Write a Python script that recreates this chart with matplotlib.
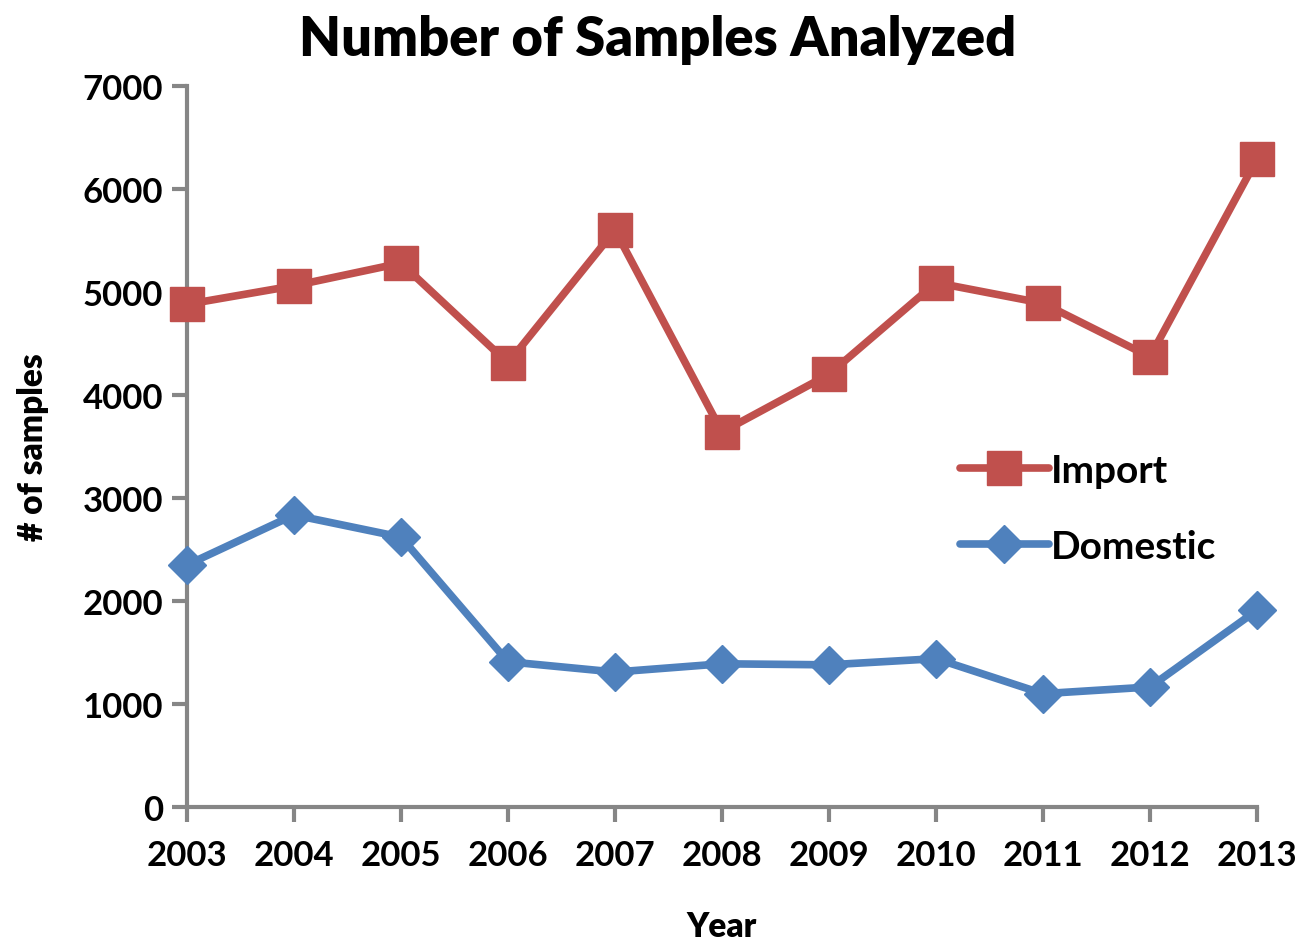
import matplotlib.pyplot as plt
import numpy as np

# datos
years = [2003, 2004, 2005, 2006, 2007, 2008, 2009, 2010, 2011, 2012, 2013]
import_samples = [4880, 5060, 5280, 4310, 5600, 3640, 4200, 5090, 4890, 4370, 6290]
domestic_samples = [2350, 2835, 2620, 1410, 1310, 1390, 1380, 1440, 1100, 1165, 1910]
y_ticks = [0, 1000, 2000, 3000, 4000, 5000, 6000, 7000]

plt.rcParams['font.family'] = ['Lato', 'DejaVu Sans']
plt.rcParams['font.weight'] = 'bold'

fig = plt.figure(figsize=(13.03, 9.45), dpi=100)
ax = fig.add_axes([0.1435, 0.145, 0.8212, 0.763])

ax.plot(years, import_samples, color="#C0504D", lw=5.5, marker="s", ms=24,
        label="Import", solid_joinstyle="round", solid_capstyle="round",
        clip_on=False, zorder=3)
ax.plot(years, domestic_samples, color="#4F81BD", lw=5.5, marker="D", ms=19,
        label="Domestic", solid_joinstyle="round", solid_capstyle="round",
        clip_on=False, zorder=3)

ax.set_xlim(2003, 2013)
ax.set_ylim(0, 7000)
ax.set_xticks(years)
ax.set_yticks(y_ticks)
ax.tick_params(axis="both", labelsize=25, color="#868686", width=3, length=11, direction="out")
ax.tick_params(axis="x", pad=12)
ax.tick_params(axis="y", pad=6)

for s in ["top", "right"]:
    ax.spines[s].set_visible(False)
for s in ["left", "bottom"]:
    ax.spines[s].set_color("#868686")
    ax.spines[s].set_linewidth(3)

fig.text(0.505, 0.958, "Number of Samples Analyzed", fontsize=39, fontweight="heavy",
         ha="center", va="center")
ax.set_xlabel("Year", fontsize=24, fontweight="heavy", labelpad=28)
ax.set_ylabel("# of samples", fontsize=24, fontweight="heavy", labelpad=24)

ax.legend(loc="center left", bbox_to_anchor=(0.722, 0.414), frameon=False, fontsize=28,
          handlelength=2.3, handletextpad=0.05, labelspacing=1.05, markerscale=1.0,
          borderpad=0, borderaxespad=0)

fig.savefig("out.png", dpi=100)
